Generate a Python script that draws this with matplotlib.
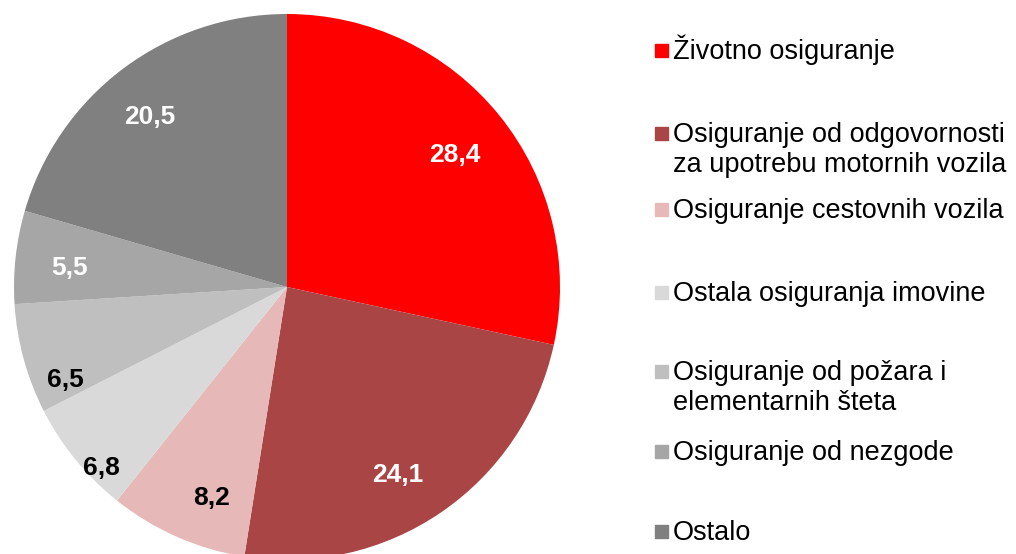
import numpy as np
import matplotlib.pyplot as plt
from matplotlib.patches import Rectangle

# shares in %, clockwise from 12 o'clock
categories = [
    "Životno osiguranje",
    "Osiguranje od odgovornosti\nza upotrebu motornih vozila",
    "Osiguranje cestovnih vozila",
    "Ostala osiguranja imovine",
    "Osiguranje od požara i\nelementarnih šteta",
    "Osiguranje od nezgode",
    "Ostalo",
]
values = [28.4, 24.1, 8.2, 6.8, 6.5, 5.5, 20.5]
value_labels = ["28,4", "24,1", "8,2", "6,8", "6,5", "5,5", "20,5"]

colors = ["#FF0000", "#A94545", "#E6B9B8", "#D9D9D9", "#BFBFBF", "#A6A6A6", "#808080"]
label_colors = ["white", "white", "black", "black", "black", "white", "white"]

plt.rcParams['font.family'] = ['Liberation Sans', 'DejaVu Sans']

W, H = 1016, 554
fig = plt.figure(figsize=(W / 100, H / 100), dpi=100)

# pie centre (287, 287) px, radius 273 px
cx, cy, r = 287, 287, 273
ax = fig.add_axes([(cx - r) / W, (H - cy - r) / H, 2 * r / W, 2 * r / H])
wedges, _ = ax.pie(values, colors=colors, startangle=90, counterclock=False,
                   radius=1, wedgeprops=dict(linewidth=0))
ax.set_xlim(-1, 1)
ax.set_ylim(-1, 1)
ax.set_aspect('equal')
ax.axis('off')

# label distance from centre and angular nudge (deg) from the wedge middle
label_r = [0.78, 0.80, 0.82, 0.95, 0.88, 0.80, 0.80]
label_shift = [-0.7, -4.0, 4.0, 5.0, 7.5, 1.3, 2.0]
for w, txt, c, lr, sh in zip(wedges, value_labels, label_colors, label_r, label_shift):
    ang = np.deg2rad((w.theta1 + w.theta2) / 2 + sh)
    ax.text(lr * np.cos(ang), lr * np.sin(ang), txt, color=c, fontsize=19,
            fontweight='bold', ha='center', va='center')

# legend drawn by hand to match the uneven spacing
baselines = [59, 142, 218, 301, 380, 460, 540]
line_gap = 30
for cat, col, base in zip(categories, colors, baselines):
    sq = 13
    fig.patches.append(Rectangle((655 / W, 1 - (base - 2) / H), sq / W, sq / H,
                                 transform=fig.transFigure, color=col))
    for i, line in enumerate(cat.split("\n")):
        fig.text(673 / W, 1 - (base + i * line_gap) / H, line, fontsize=19.5,
                 ha='left', va='baseline', color='black')

fig.savefig("out.png", dpi=100)
